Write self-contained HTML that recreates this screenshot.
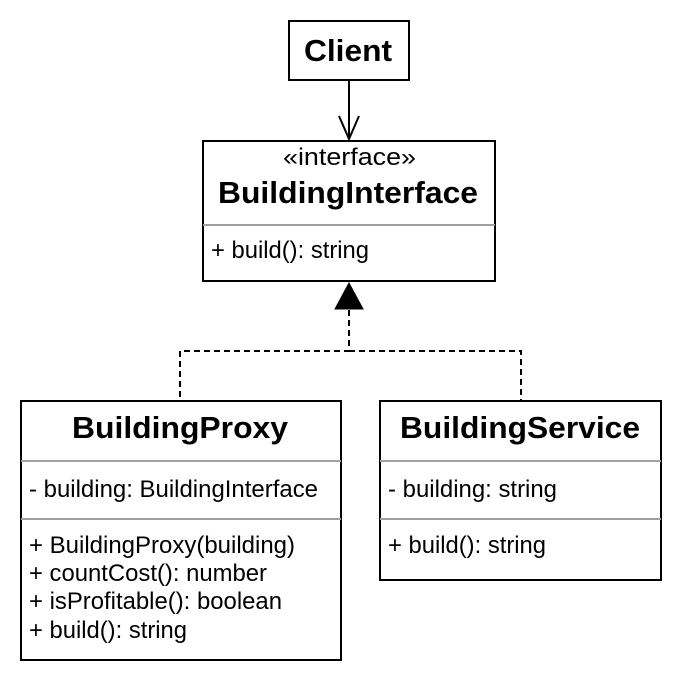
<!DOCTYPE html>
<html><head><style>
body{margin:0;background:#fff;}
svg text{font-family:"Liberation Sans",Arial,sans-serif;fill:#000;}
</style></head><body>
<svg width="682" height="682" viewBox="0 0 682 682" xmlns="http://www.w3.org/2000/svg">
<rect x="0" y="0" width="682" height="682" fill="#fff"/>
<!-- Client -->
<rect x="289" y="21" width="120" height="59" fill="#fff" stroke="#000" stroke-width="2"/>
<text x="304" y="61" font-size="31" font-weight="bold" textLength="88" lengthAdjust="spacingAndGlyphs">Client</text>
<line x1="349" y1="80" x2="349" y2="139" stroke="#000" stroke-width="2"/>
<polyline points="339,116 349,139 359,116" fill="none" stroke="#000" stroke-width="2"/>
<!-- Interface -->
<rect x="203" y="141" width="292" height="140" fill="#fff" stroke="#000" stroke-width="2"/>
<text x="283" y="165" font-size="24" textLength="133" lengthAdjust="spacingAndGlyphs">«interface»</text>
<text x="218" y="203" font-size="31" font-weight="bold" textLength="260" lengthAdjust="spacingAndGlyphs">BuildingInterface</text>
<line x1="203" y1="225" x2="495" y2="225" stroke="#a0a0a0" stroke-width="2"/>
<text x="211" y="258" font-size="24" textLength="158" lengthAdjust="spacingAndGlyphs">+ build(): string</text>
<!-- Triangle and dashed -->
<polygon points="349,283 335,309 363,309" fill="#000" stroke="#000" stroke-width="1"/>
<polyline points="349,310 349,351 180,351 180,400" fill="none" stroke="#000" stroke-width="2" stroke-dasharray="6,4"/>
<polyline points="349,351 521,351 521,400" fill="none" stroke="#000" stroke-width="2" stroke-dasharray="6,4"/>
<!-- Proxy -->
<rect x="21" y="401" width="320" height="259" fill="#fff" stroke="#000" stroke-width="2"/>
<text x="72" y="438" font-size="31" font-weight="bold" textLength="216" lengthAdjust="spacingAndGlyphs">BuildingProxy</text>
<line x1="21" y1="461" x2="341" y2="461" stroke="#a0a0a0" stroke-width="2"/>
<text x="29" y="497" font-size="24" textLength="289" lengthAdjust="spacingAndGlyphs">- building: BuildingInterface</text>
<line x1="21" y1="519" x2="341" y2="519" stroke="#a0a0a0" stroke-width="2"/>
<text x="29" y="553" font-size="24" textLength="266" lengthAdjust="spacingAndGlyphs">+ BuildingProxy(building)</text>
<text x="29" y="581" font-size="24" textLength="238" lengthAdjust="spacingAndGlyphs">+ countCost(): number</text>
<text x="29" y="609" font-size="24" textLength="253" lengthAdjust="spacingAndGlyphs">+ isProfitable(): boolean</text>
<text x="29" y="638" font-size="24" textLength="158" lengthAdjust="spacingAndGlyphs">+ build(): string</text>
<!-- Service -->
<rect x="380" y="401" width="281" height="179" fill="#fff" stroke="#000" stroke-width="2"/>
<text x="400" y="438" font-size="31" font-weight="bold" textLength="240" lengthAdjust="spacingAndGlyphs">BuildingService</text>
<line x1="380" y1="461" x2="661" y2="461" stroke="#a0a0a0" stroke-width="2"/>
<text x="388" y="497" font-size="24" textLength="169" lengthAdjust="spacingAndGlyphs">- building: string</text>
<line x1="380" y1="519" x2="661" y2="519" stroke="#a0a0a0" stroke-width="2"/>
<text x="388" y="553" font-size="24" textLength="158" lengthAdjust="spacingAndGlyphs">+ build(): string</text>
</svg>
</body></html>
